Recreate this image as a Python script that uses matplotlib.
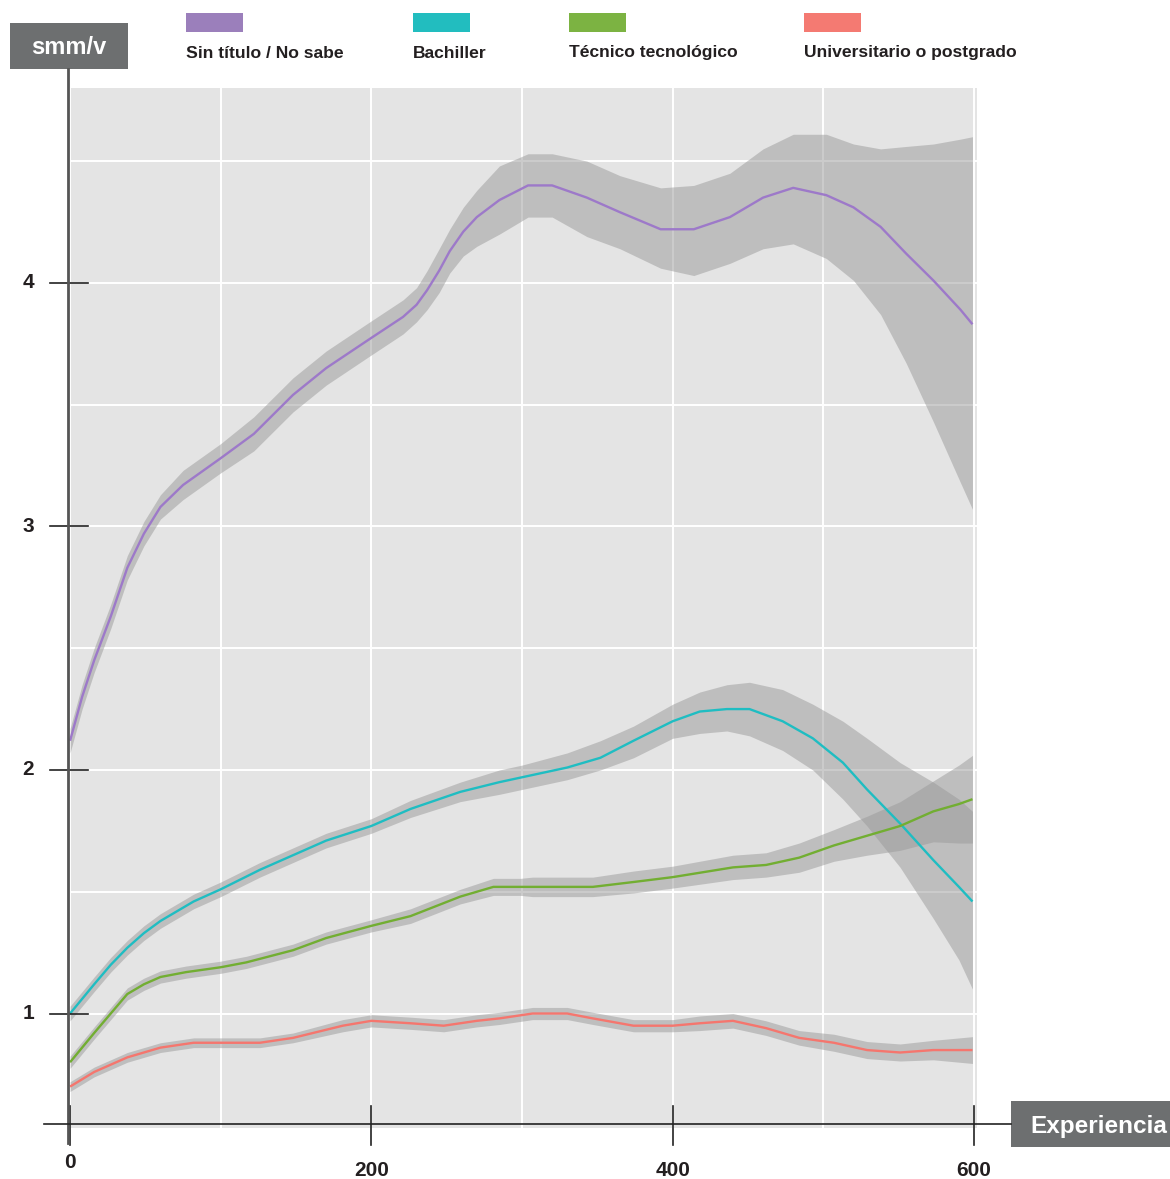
import matplotlib
matplotlib.use('Agg')
import matplotlib.pyplot as plt
import matplotlib.transforms as mtransforms
from matplotlib.patches import Rectangle
import numpy as np

plt.rcParams['font.family'] = ['Liberation Sans', 'DejaVu Sans']

# ---- data ----
series_names = ['Sin título / No sabe', 'Bachiller', 'Técnico tecnológico', 'Universitario o postgrado']
legend_colors = ['#9b7fbb', '#22bdbf', '#7cb342', '#f47a72']
line_colors = ['#9d79c9', '#1fbdc2', '#72ae32', '#f5766e']

sin_x = [0, 8, 16, 27, 38, 49, 60, 75, 100, 122, 148, 170, 199, 221, 230, 237, 245, 252, 261, 270, 285,
         304, 320, 343, 365, 392, 414, 438, 460, 480, 502, 520, 538, 555, 573, 591, 599]
sin_mid = [2.12, 2.30, 2.45, 2.63, 2.83, 2.97, 3.08, 3.17, 3.28, 3.38, 3.54, 3.65, 3.77, 3.86, 3.91, 3.97,
           4.05, 4.13, 4.21, 4.27, 4.34, 4.40, 4.40, 4.35, 4.29, 4.22, 4.22, 4.27, 4.35, 4.39, 4.36, 4.31,
           4.23, 4.12, 4.01, 3.89, 3.83]
sin_hi = [2.17, 2.35, 2.50, 2.68, 2.88, 3.02, 3.13, 3.23, 3.34, 3.45, 3.61, 3.72, 3.84, 3.93, 3.98, 4.05,
          4.14, 4.22, 4.31, 4.38, 4.48, 4.53, 4.53, 4.50, 4.44, 4.39, 4.40, 4.45, 4.55, 4.61, 4.61, 4.57,
          4.55, 4.56, 4.57, 4.59, 4.60]
sin_lo = [2.07, 2.25, 2.40, 2.58, 2.78, 2.92, 3.03, 3.11, 3.22, 3.31, 3.47, 3.58, 3.70, 3.79, 3.84, 3.89,
          3.96, 4.04, 4.11, 4.15, 4.20, 4.27, 4.27, 4.19, 4.14, 4.06, 4.03, 4.08, 4.14, 4.16, 4.10, 4.01,
          3.87, 3.67, 3.43, 3.18, 3.07]

bach_x = [0, 8, 16, 27, 38, 49, 60, 82, 100, 126, 148, 170, 200, 226, 259, 285, 300, 330, 352, 374,
          400, 418, 436, 451, 473, 493, 513, 529, 551, 573, 590, 599]
bach_mid = [1.00, 1.06, 1.12, 1.20, 1.27, 1.33, 1.38, 1.46, 1.51, 1.59, 1.65, 1.71, 1.77, 1.84, 1.91, 1.95,
            1.97, 2.01, 2.05, 2.12, 2.20, 2.24, 2.25, 2.25, 2.20, 2.13, 2.03, 1.92, 1.78, 1.63, 1.52, 1.46]
bach_hi = [1.03, 1.09, 1.15, 1.23, 1.30, 1.36, 1.41, 1.49, 1.54, 1.62, 1.68, 1.74, 1.80, 1.875, 1.95, 2.00,
           2.02, 2.07, 2.12, 2.18, 2.27, 2.32, 2.35, 2.36, 2.33, 2.27, 2.20, 2.13, 2.03, 1.95, 1.88, 1.83]
bach_lo = [0.97, 1.03, 1.09, 1.17, 1.24, 1.30, 1.35, 1.43, 1.48, 1.56, 1.62, 1.68, 1.74, 1.805, 1.87, 1.90,
           1.92, 1.96, 2.00, 2.05, 2.13, 2.15, 2.16, 2.14, 2.08, 2.00, 1.88, 1.77, 1.60, 1.39, 1.22, 1.10]

tec_x = [0, 8, 16, 27, 38, 49, 60, 77, 100, 117, 148, 170, 200, 226, 259, 281, 299, 307, 347, 374,
         400, 440, 462, 484, 507, 529, 551, 573, 590, 599]
tec_mid = [0.80, 0.86, 0.92, 1.00, 1.08, 1.12, 1.15, 1.17, 1.19, 1.21, 1.26, 1.31, 1.36, 1.40, 1.48, 1.52,
           1.52, 1.52, 1.52, 1.54, 1.56, 1.60, 1.61, 1.64, 1.69, 1.73, 1.77, 1.83, 1.86, 1.88]
tec_hi = [0.825, 0.885, 0.945, 1.025, 1.105, 1.145, 1.175, 1.195, 1.215, 1.235, 1.285, 1.335, 1.385, 1.43,
          1.51, 1.555, 1.555, 1.56, 1.56, 1.585, 1.605, 1.65, 1.66, 1.70, 1.755, 1.81, 1.87, 1.955, 2.02, 2.06]
tec_lo = [0.775, 0.835, 0.895, 0.975, 1.055, 1.095, 1.125, 1.145, 1.165, 1.185, 1.235, 1.285, 1.335, 1.37,
          1.45, 1.485, 1.485, 1.48, 1.48, 1.495, 1.515, 1.55, 1.56, 1.58, 1.625, 1.65, 1.67, 1.705, 1.70, 1.70]

uni_x = [0, 16, 38, 60, 82, 126, 148, 181, 200, 226, 248, 270, 285, 307, 330, 347, 374, 400, 418, 440,
         462, 484, 507, 529, 551, 573, 599]
uni_mid = [0.70, 0.76, 0.82, 0.86, 0.88, 0.88, 0.90, 0.95, 0.97, 0.96, 0.95, 0.97, 0.98, 1.00, 1.00, 0.98,
           0.95, 0.95, 0.96, 0.97, 0.94, 0.90, 0.88, 0.85, 0.84, 0.85, 0.85]
uni_hi = [0.72, 0.78, 0.84, 0.88, 0.90, 0.90, 0.92, 0.975, 0.995, 0.985, 0.975, 0.995, 1.005, 1.025, 1.025,
          1.005, 0.975, 0.975, 0.99, 1.00, 0.97, 0.93, 0.915, 0.885, 0.875, 0.89, 0.905]
uni_lo = [0.68, 0.74, 0.80, 0.84, 0.86, 0.86, 0.88, 0.925, 0.945, 0.935, 0.925, 0.945, 0.955, 0.975, 0.975,
          0.955, 0.925, 0.925, 0.93, 0.94, 0.91, 0.87, 0.845, 0.815, 0.805, 0.81, 0.795]

xticks = [0, 200, 400, 600]
yticks = [1, 2, 3, 4]

W, H = 1170, 1179
fig = plt.figure(figsize=(W / 100, H / 100), dpi=100)


def fx(px):
    return px / W


def fy(py):
    return 1 - py / H


ax = fig.add_axes([fx(69), fy(1128), fx(977 - 69), (1128 - 88) / H])
ax.set_facecolor('#e4e4e4')
ax.set_xlim(-0.7, 602)
ax.set_ylim(0.53, 4.80)
ax.set_xticks(np.arange(0, 601, 100))
ax.set_yticks(np.arange(1, 4.6, 0.5))
ax.grid(True, color='white', lw=1.4)
ax.set_axisbelow(True)
ax.tick_params(length=0, labelbottom=False, labelleft=False)
for s in ax.spines.values():
    s.set_visible(False)

groups = [(sin_x, sin_mid, sin_lo, sin_hi), (bach_x, bach_mid, bach_lo, bach_hi),
          (tec_x, tec_mid, tec_lo, tec_hi), (uni_x, uni_mid, uni_lo, uni_hi)]
for (gx, gm, gl, gh), c in zip(groups, line_colors):
    ax.fill_between(gx, gl, gh, color='#999999', alpha=0.5, lw=0, zorder=2)
for (gx, gm, gl, gh), c in zip(groups, line_colors):
    ax.plot(gx, gm, color=c, lw=1.7, zorder=3, solid_capstyle='butt', solid_joinstyle='round')

# overlaid axes drawn by hand
tr_y = mtransforms.blended_transform_factory(fig.transFigure, ax.transData)
tr_x = mtransforms.blended_transform_factory(ax.transData, fig.transFigure)
fig.add_artist(plt.Line2D([fx(68), fx(68)], [fy(69), fy(1143)], color='#555555', lw=2.0))
fig.add_artist(plt.Line2D([fx(44), fx(1011)], [fy(1124), fy(1124)], color='#222222', lw=1.2))
for v in yticks:
    ax.plot([fx(50), fx(88)], [v, v], transform=tr_y, color='#222222', lw=1.2, clip_on=False, zorder=5)
    ax.text(fx(28), v, str(v), transform=tr_y, ha='center', va='center', fontsize=15,
            fontweight='bold', color='#231f20')
xlabel_py = [1162, 1170, 1170, 1170]
for v, py in zip(xticks, xlabel_py):
    ax.plot([v, v], [fy(1106), fy(1145)], transform=tr_x, color='#222222', lw=1.2, clip_on=False, zorder=5)
    ax.text(v, fy(py), str(v), transform=tr_x, ha='center', va='center', fontsize=15,
            fontweight='bold', color='#231f20')

# axis title boxes
fig.add_artist(Rectangle((fx(10), fy(69)), fx(118), 46 / H, transform=fig.transFigure,
                         facecolor='#6d6f70', edgecolor='none'))
fig.text(fx(69), fy(47), 'smm/v', ha='center', va='center', color='white', fontsize=17, fontweight='bold')
fig.add_artist(Rectangle((fx(1011), fy(1147)), fx(159), 46 / H, transform=fig.transFigure,
                         facecolor='#6d6f70', edgecolor='none'))
fig.text(fx(1030), fy(1126), 'Experiencia', ha='left', va='center', color='white', fontsize=17.5,
         fontweight='bold')

# legend
leg_x = [186, 413, 569, 804]
for lx, name, c in zip(leg_x, series_names, legend_colors):
    fig.add_artist(Rectangle((fx(lx), fy(32)), fx(57), 19 / H, transform=fig.transFigure,
                             facecolor=c, edgecolor='none'))
    fig.text(fx(lx), fy(53), name, ha='left', va='center', fontsize=12.6, fontweight='bold',
             color='#231f20')

fig.savefig('out.png', dpi=100)
